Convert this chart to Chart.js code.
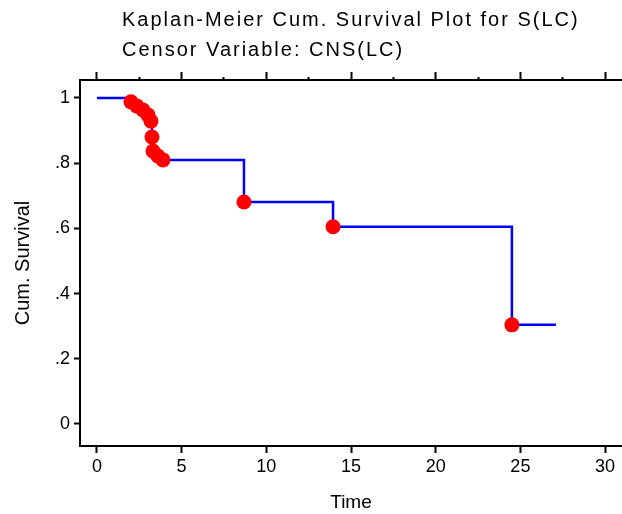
<!DOCTYPE html>
<html>
<head>
<meta charset="utf-8">
<script src="https://cdn.jsdelivr.net/npm/chart.js@4"></script>
<style>
  body { margin: 0; background: #fff; }
  canvas { display: block; }
</style>
</head>
<body>
<canvas id="km" width="622" height="514"></canvas>
<script>
// values
const titleLines = ['Kaplan-Meier Cum. Survival Plot for S(LC)', 'Censor Variable: CNS(LC)'];
const startTime = 0;
const startSurvival = 1;
const eventTimes = [2.01, 2.36, 2.72, 3.01, 3.19, 3.25, 3.31, 3.60, 3.90, 8.68, 13.94, 24.5];
const eventSurvival = [0.988, 0.975, 0.963, 0.948, 0.929, 0.880, 0.837, 0.822, 0.810, 0.681, 0.605, 0.304];
const lastTime = 27.1;
const xTicks = [0, 5, 10, 15, 20, 25, 30];
const xTopTicks = [0, 2.5, 5, 7.5, 10, 12.5, 15, 17.5, 20, 22.5, 25, 27.5, 30];
const yTicks = [0, 0.2, 0.4, 0.6, 0.8, 1];
const yTickLabels = ['0', '.2', '.4', '.6', '.8', '1'];

var curve = [{x: startTime, y: startSurvival}];
eventTimes.forEach(function(t, i){ curve.push({x: t, y: eventSurvival[i]}) });
curve.push({x: lastTime, y: eventSurvival[eventSurvival.length - 1]});
var marks = eventTimes.map(function(t, i){ return {x: t, y: eventSurvival[i]} });

var family = '"Liberation Sans", Arial, sans-serif';
var xMin = -1.0, xMax = 31.0;

// no extra room for the outer tick labels, the frame runs to the edges
function noPad(s){
    s.paddingLeft = 0; s.paddingRight = 0;
    s.paddingTop = 0; s.paddingBottom = 0;
}

var header = {
    id: 'header',
    afterDraw(chart) {
        var ctx = chart.ctx;
        ctx.save();
        ctx.fillStyle = '#000';
        ctx.font = '20px ' + family;
        ctx.letterSpacing = '2px';
        ctx.textBaseline = 'middle';
        titleLines.forEach(function(line, i){ ctx.fillText(line, 122, 20 + i * 30) });
        ctx.restore();
    }
};

new Chart(document.getElementById('km'), {
    type: 'scatter',
    data: {
        datasets: [
            {
                type: 'line',
                data: curve,
                stepped: true,
                borderColor: '#0000ff',
                borderWidth: 2.5,
                pointRadius: 0,
                fill: false,
                order: 2
            },
            {
                data: marks,
                pointRadius: 7.5,
                pointBorderWidth: 0,
                backgroundColor: '#ff0000',
                borderColor: '#ff0000',
                order: 1
            }
        ]
    },
    options: {
        responsive: false,
        animation: false,
        layout: { padding: 0, autoPadding: false },
        plugins: {
            legend: { display: false },
            tooltip: { enabled: false }
        },
        scales: {
            x: {
                type: 'linear',
                position: 'bottom',
                min: xMin,
                max: xMax,
                afterBuildTicks: function(s){ s.ticks = xTicks.map(function(v){ return {value: v} }) },
                afterFit: function(s){ s.height = 68; noPad(s) },
                ticks: { color: '#000', font: { family: family, size: 18 }, padding: 3, maxRotation: 0, autoSkip: false },
                grid: { drawOnChartArea: false, tickLength: 7, tickColor: '#000', tickWidth: 2 },
                border: { color: '#000', width: 2 },
                title: { display: true, text: 'Time', color: '#000', font: { family: family, size: 19 }, padding: 0 }
            },
            xTop: {
                type: 'linear',
                position: 'top',
                min: xMin,
                max: xMax,
                afterBuildTicks: function(s){ s.ticks = xTopTicks.map(function(v){ return {value: v} }) },
                afterFit: function(s){ s.height = 80; noPad(s) },
                ticks: { display: false },
                grid: {
                    drawOnChartArea: false,
                    tickLength: 8,
                    tickColor: '#000',
                    tickWidth: 2,
                    tickBorderDash: function(c){ return (c.tick && c.tick.value % 5 !== 0) ? [0, 5, 3, 20] : [] }
                },
                border: { color: '#000', width: 2 }
            },
            y: {
                type: 'linear',
                position: 'left',
                min: -0.0675,
                max: 1.055,
                afterBuildTicks: function(s){ s.ticks = yTicks.map(function(v){ return {value: v} }) },
                afterFit: function(s){ s.width = 80; noPad(s) },
                ticks: {
                    color: '#000',
                    font: { family: family, size: 18 },
                    padding: 4,
                    autoSkip: false,
                    callback: function(v, i){ return yTickLabels[i] }
                },
                grid: { drawOnChartArea: false, tickLength: 6, tickColor: '#000', tickWidth: 2 },
                border: { color: '#000', width: 2 },
                title: { display: true, text: 'Cum. Survival', color: '#000', font: { family: family, size: 20 }, padding: { top: 11, bottom: 0 } }
            }
        }
    },
    plugins: [header]
});
</script>
</body>
</html>
